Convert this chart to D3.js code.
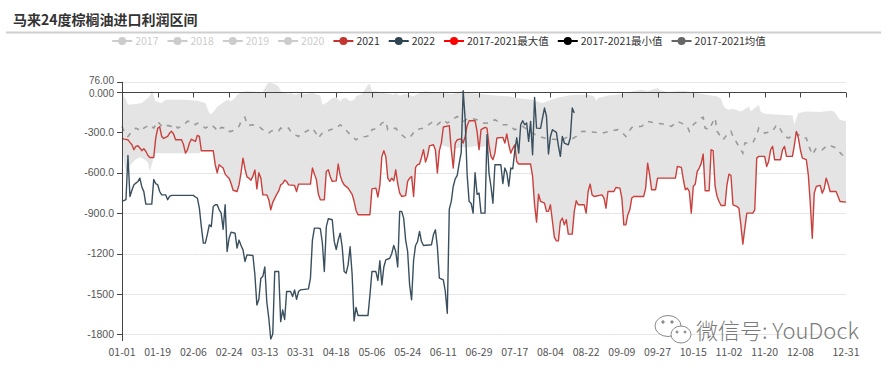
<!DOCTYPE html>
<html>
<head>
<meta charset="utf-8">
<script src="https://cdn.jsdelivr.net/npm/d3@7"></script>
<style>
  body { margin: 0; background: #fff; }
  svg { display: block; font-family: "Noto Sans CJK SC", "Noto Sans", sans-serif; }
</style>
</head>
<body>
<div id="chart"></div>
<script>
// 马来24度棕榈油进口利润区间 — values, [day of year index, value]

const title = "马来24度棕榈油进口利润区间";

// x categories: every day of a (leap) year, shown as MM-DD
const days = d3.timeDay.range(new Date(2020, 0, 1), new Date(2021, 0, 1)).map(d3.timeFormat("%m-%d"));
const xTickLabels = ["01-01","01-19","02-06","02-24","03-13","03-31","04-18","05-06","05-24","06-11",
  "06-29","07-17","08-04","08-22","09-09","09-27","10-15","11-02","11-20","12-08","12-31"];
const yTicks = [76, 0, -300, -600, -900, -1200, -1500, -1800];

const legendNames = ["2017","2018","2019","2020","2021","2022","2017-2021最大值","2017-2021最小值","2017-2021均值"];
const legendColors = ["#cccccc","#cccccc","#cccccc","#cccccc","#c23531","#2f4554","#ff0000","#000000","#666666"];
const legendOn = [false,false,false,false,true,true,true,true,true];

const profit2021 = [[0,-342],[1,-350],[3,-355],[4,-374],[5,-392],[6,-429],[7,-404],[8,-399],[9,-416],[10,-436],
  [11,-421],[12,-440],[13,-470],[14,-486],[16,-486],[17,-342],[18,-270],[19,-258],[20,-330],[21,-345],[23,-330],
  [24,-305],[25,-292],[26,-312],[27,-355],[30,-355],[31,-390],[32,-454],[33,-430],[34,-379],[35,-350],[36,-360],
  [37,-367],[38,-322],[39,-330],[40,-436],[46,-436],[47,-540],[48,-600],[49,-540],[50,-553],[51,-565],[52,-610],
  [53,-627],[54,-640],[55,-680],[56,-730],[58,-739],[59,-690],[60,-600],[61,-491],[62,-570],[63,-630],[64,-640],
  [65,-655],[66,-625],[67,-580],[68,-720],[69,-600],[70,-640],[71,-764],[73,-764],[74,-800],[75,-875],[76,-820],
  [77,-790],[78,-760],[79,-735],[80,-690],[81,-680],[82,-655],[83,-665],[84,-690],[87,-694],[88,-740],[89,-684],
  [95,-684],[96,-565],[97,-610],[98,-650],[99,-760],[100,-801],[102,-801],[103,-590],[104,-578],[105,-630],
  [106,-664],[108,-660],[109,-535],[110,-620],[111,-664],[112,-690],[114,-714],[116,-760],[117,-810],[118,-880],
  [119,-912],[125,-912],[126,-720],[128,-714],[129,-780],[130,-694],[131,-480],[132,-436],[133,-480],[134,-640],
  [135,-664],[136,-640],[137,-660],[138,-578],[139,-680],[140,-751],[141,-776],[143,-770],[144,-664],[145,-640],
  [146,-627],[147,-776],[148,-560],[149,-540],[150,-535],[151,-486],[152,-429],[153,-520],[154,-478],[155,-400],
  [157,-392],[158,-430],[159,-602],[160,-435],[161,-379],[162,-260],[165,-250],[166,-429],[167,-565],[168,-380],
  [169,-355],[171,-348],[172,-379],[173,-330],[174,-250],[175,-213],[178,-213],[179,-292],[180,-429],[181,-280],
  [183,-263],[184,-268],[185,-392],[186,-478],[187,-503],[188,-454],[189,-342],[192,-337],[193,-379],[194,-312],
  [195,-392],[196,-454],[197,-420],[198,-392],[199,-516],[200,-535],[206,-535],[207,-627],[208,-838],[209,-967],
  [210,-760],[211,-813],[213,-826],[214,-887],[215,-887],[216,-838],[217,-960],[218,-1080],[219,-1106],[220,-1106],
  [221,-962],[222,-937],[223,-987],[224,-949],[225,-1056],[227,-1056],[228,-887],[229,-808],[230,-838],[233,-838],
  [234,-900],[235,-739],[236,-684],[237,-764],[238,-776],[242,-764],[243,-788],[244,-863],[245,-739],[248,-739],
  [249,-709],[251,-714],[252,-788],[253,-987],[254,-987],[255,-912],[256,-875],[257,-788],[258,-776],[263,-776],
  [264,-714],[265,-528],[266,-615],[267,-726],[269,-726],[270,-640],[279,-640],[280,-553],[282,-560],[283,-650],
  [284,-726],[285,-714],[286,-739],[287,-900],[288,-702],[289,-684],[290,-590],[291,-565],[292,-530],[293,-461],
  [294,-734],[296,-734],[297,-429],[298,-436],[299,-700],[300,-776],[301,-813],[302,-843],[304,-843],[305,-689],
  [306,-610],[307,-620],[308,-838],[310,-850],[311,-863],[312,-987],[313,-1130],[314,-1011],[315,-900],[318,-900],
  [319,-875],[320,-491],[321,-478],[324,-478],[325,-553],[326,-516],[327,-429],[328,-404],[329,-503],[332,-503],
  [333,-429],[334,-404],[335,-478],[338,-478],[339,-392],[340,-293],[341,-342],[342,-429],[343,-491],[345,-503],
  [346,-615],[347,-830],[348,-1086],[349,-751],[350,-702],[352,-694],[353,-751],[354,-720],[355,-640],[356,-684],
  [357,-739],[360,-739],[361,-776],[362,-813],[365,-818]];

const profit2022 = [[0,-813],[2,-800],[3,-471],[4,-776],[5,-730],[6,-689],[7,-677],[8,-665],[9,-640],[10,-705],
  [11,-740],[12,-833],[15,-833],[16,-650],[17,-680],[18,-689],[19,-739],[20,-764],[22,-764],[23,-800],[24,-776],
  [25,-768],[36,-768],[37,-780],[38,-788],[39,-863],[40,-1000],[41,-1123],[42,-1123],[43,-1060],[44,-987],
  [45,-1000],[46,-850],[47,-838],[48,-838],[49,-875],[50,-900],[51,-1020],[52,-838],[53,-1185],[54,-1086],
  [55,-1041],[57,-1049],[58,-1160],[59,-1100],[60,-1140],[61,-1173],[62,-1259],[63,-1210],[66,-1215],[67,-1358],
  [68,-1582],[69,-1540],[70,-1383],[71,-1370],[72,-1300],[73,-1560],[74,-1681],[75,-1835],[76,-1800],[77,-1334],
  [79,-1334],[80,-1706],[81,-1620],[82,-1690],[83,-1482],[85,-1482],[86,-1520],[87,-1470],[88,-1540],[89,-1482],
  [90,-1470],[94,-1463],[95,-1383],[96,-1100],[97,-1011],[99,-1011],[100,-1016],[101,-1120],[102,-1334],[103,-1000],
  [104,-942],[106,-949],[107,-1110],[108,-1170],[109,-1100],[110,-1049],[111,-1150],[112,-1334],[113,-1346],
  [114,-1284],[115,-1150],[116,-1350],[117,-1701],[118,-1600],[119,-1661],[124,-1661],[125,-1507],[126,-1334],
  [128,-1334],[129,-1400],[130,-1254],[131,-1433],[132,-1300],[133,-1247],[135,-1235],[136,-1200],[137,-1140],
  [138,-1185],[139,-1300],[140,-887],[141,-887],[142,-937],[143,-1100],[144,-1185],[145,-1433],[146,-1544],
  [147,-1250],[148,-1140],[149,-1111],[150,-1036],[151,-1111],[152,-1140],[156,-1135],[157,-1061],[158,-1024],
  [159,-1150],[160,-1383],[162,-1396],[163,-1482],[164,-1644],[165,-870],[166,-813],[167,-700],[168,-645],
  [169,-620],[170,-528],[171,-450],[172,10],[173,-200],[174,-615],[175,-813],[176,-826],[177,-900],[178,-600],
  [179,-760],[180,-751],[181,-900],[183,-900],[184,-317],[185,-600],[186,-700],[187,-826],[188,-540],[191,-540],
  [192,-680],[193,-565],[194,-600],[195,-700],[196,-565],[197,-570],[198,-441],[199,-340],[200,-454],[201,-243],
  [202,-213],[203,-243],[204,-230],[205,-367],[206,-218],[207,-466],[208,-40],[209,-268],[211,-270],[212,-193],
  [213,-119],[214,-180],[215,-460],[216,-330],[217,-280],[219,-300],[220,-400],[221,-478],[222,-330],[223,-379],
  [225,-392],[226,-342],[227,-119],[228,-156]];

const avg1721 = [[0,-255],[1,-292],[3,-330],[5,-292],[7,-268],[10,-292],[11,-268],[14,-243],[16,-268],[18,-218],
  [20,-255],[21,-243],[25,-255],[27,-243],[28,-268],[30,-255],[32,-231],[33,-218],[35,-218],[37,-243],[38,-231],
  [40,-243],[42,-268],[45,-243],[47,-268],[48,-292],[49,-280],[50,-263],[52,-268],[53,-292],[55,-292],[57,-280],
  [59,-255],[60,-218],[62,-188],[63,-243],[64,-248],[66,-243],[69,-255],[70,-268],[72,-292],[74,-305],[75,-292],
  [77,-280],[79,-288],[80,-268],[82,-280],[84,-268],[85,-292],[87,-317],[89,-330],[90,-312],[93,-292],[96,-268],
  [98,-312],[99,-342],[101,-305],[105,-280],[108,-268],[110,-243],[112,-268],[115,-317],[118,-355],[120,-337],
  [123,-330],[125,-322],[126,-280],[129,-268],[131,-231],[133,-218],[134,-280],[138,-268],[140,-305],[143,-342],
  [145,-342],[148,-280],[152,-268],[155,-238],[157,-218],[159,-243],[162,-206],[164,-231],[169,-181],[172,-218],
  [175,-193],[179,-206],[182,-230],[185,-231],[188,-206],[192,-243],[195,-243],[198,-280],[202,-255],[207,-305],
  [210,-330],[213,-342],[217,-350],[222,-355],[225,-330],[227,-347],[229,-330],[232,-292],[237,-297],[242,-305],
  [247,-288],[250,-280],[252,-297],[254,-330],[255,-305],[257,-263],[262,-255],[265,-218],[269,-231],[273,-238],
  [277,-255],[280,-218],[282,-231],[285,-255],[286,-292],[288,-243],[292,-193],[293,-188],[294,-268],[296,-280],
  [298,-218],[299,-193],[300,-292],[303,-355],[305,-317],[307,-292],[308,-330],[311,-404],[313,-454],[314,-379],
  [318,-379],[320,-317],[321,-268],[324,-305],[328,-292],[330,-243],[331,-255],[334,-330],[336,-342],[340,-305],
  [343,-342],[345,-342],[346,-392],[348,-466],[350,-416],[353,-429],[356,-392],[360,-416],[363,-466],[365,-471]];

const max1721 = [[0,-7],[1,-32],[2,-57],[3,-94],[7,-89],[10,-82],[11,-69],[13,-45],[14,-32],[15,17],[16,-32],
  [17,-69],[20,-82],[21,-69],[22,-57],[32,-57],[38,-64],[42,-82],[43,-119],[44,-156],[45,-164],[47,-131],
  [48,-107],[52,-69],[53,-57],[55,-69],[57,-45],[58,-20],[60,0],[63,5],[69,0],[71,0],[72,30],[73,55],[74,76],
  [75,67],[77,59],[79,42],[80,5],[82,-7],[84,-15],[85,-7],[87,-20],[90,-7],[92,-15],[96,-7],[100,-25],[101,-94],
  [103,-82],[106,-45],[108,-40],[110,-69],[111,-50],[113,-45],[115,-69],[117,-57],[118,-32],[121,-15],[123,30],
  [124,55],[125,59],[126,5],[128,5],[132,-7],[137,-20],[138,-7],[140,-25],[143,-15],[147,-32],[150,-7],[153,5],
  [160,-7],[167,-15],[169,0],[172,10],[174,-7],[181,-15],[188,-25],[195,-32],[202,-50],[207,-57],[210,-74],
  [212,-82],[215,-64],[220,-40],[225,-25],[229,-20],[235,-20],[238,-32],[239,-64],[240,-45],[245,-25],[252,-15],
  [259,10],[262,17],[265,5],[270,30],[271,15],[275,0],[280,5],[283,10],[290,-7],[297,-25],[300,-32],[302,-50],
  [303,-94],[304,-119],[306,-131],[308,-124],[312,-144],[315,-119],[316,-107],[317,-144],[319,-119],[321,-94],
  [322,-144],[323,-156],[325,-164],[332,-169],[338,-174],[339,-243],[340,-193],[341,-156],[345,-144],[352,-149],
  [357,-139],[359,-144],[361,-188],[362,-206],[365,-218]];

const min1721 = [[0,-400],[1,-520],[2,-590],[3,-565],[5,-530],[7,-500],[9,-485],[11,-500],[13,-520],[14,-590],
  [15,-540],[16,-490],[17,-454],[39,-454],[40,-436],[46,-436],[47,-540],[48,-600],[49,-540],[50,-553],[51,-565],
  [52,-610],[53,-627],[54,-640],[55,-680],[56,-730],[58,-739],[59,-690],[60,-600],[61,-491],[62,-570],[63,-630],
  [64,-640],[65,-655],[66,-625],[67,-580],[68,-720],[69,-600],[70,-640],[71,-764],[73,-764],[74,-800],[75,-875],
  [76,-820],[77,-790],[78,-760],[79,-735],[80,-690],[81,-680],[82,-655],[83,-665],[84,-690],[87,-694],[88,-740],
  [89,-684],[95,-684],[96,-565],[97,-610],[98,-650],[99,-760],[100,-801],[102,-801],[103,-590],[104,-578],
  [105,-630],[106,-664],[108,-660],[109,-535],[110,-620],[111,-664],[112,-690],[114,-714],[116,-760],[117,-810],
  [118,-880],[119,-912],[125,-912],[126,-720],[128,-714],[129,-780],[130,-694],[131,-480],[132,-436],[133,-480],
  [134,-640],[135,-664],[136,-640],[137,-660],[138,-578],[139,-680],[140,-751],[141,-776],[143,-770],[144,-664],
  [145,-640],[146,-627],[147,-776],[148,-560],[149,-540],[150,-535],[151,-486],[152,-429],[153,-520],[154,-478],
  [155,-400],[157,-392],[158,-430],[159,-602],[160,-435],[161,-379],[162,-400],[165,-410],[166,-429],[167,-565],
  [168,-420],[171,-410],[175,-410],[179,-400],[180,-429],[181,-410],[184,-400],[185,-392],[186,-478],[187,-503],
  [188,-454],[189,-342],[192,-337],[193,-379],[194,-312],[195,-392],[196,-454],[197,-420],[198,-392],[199,-516],
  [200,-535],[206,-535],[207,-627],[208,-838],[209,-967],[210,-760],[211,-813],[213,-826],[214,-887],[215,-887],
  [216,-838],[217,-960],[218,-1080],[219,-1106],[220,-1106],[221,-962],[222,-937],[223,-987],[224,-949],
  [225,-1056],[227,-1056],[228,-887],[229,-808],[230,-838],[233,-838],[234,-900],[235,-739],[236,-684],[237,-764],
  [238,-776],[242,-764],[243,-788],[244,-863],[245,-739],[248,-739],[249,-709],[251,-714],[252,-788],[253,-987],
  [254,-987],[255,-912],[256,-875],[257,-788],[258,-776],[263,-776],[264,-714],[265,-528],[266,-615],[267,-726],
  [269,-726],[270,-640],[279,-640],[280,-553],[282,-560],[283,-650],[284,-726],[285,-714],[286,-739],[287,-900],
  [288,-702],[289,-684],[290,-590],[291,-565],[292,-530],[293,-461],[294,-734],[296,-734],[297,-429],[298,-436],
  [299,-700],[300,-776],[301,-813],[302,-843],[304,-843],[305,-689],[306,-610],[307,-620],[308,-838],[310,-850],
  [311,-863],[312,-987],[313,-1130],[314,-1011],[315,-900],[318,-900],[319,-875],[320,-491],[321,-478],[324,-478],
  [325,-553],[326,-516],[327,-429],[328,-404],[329,-503],[332,-503],[333,-429],[334,-404],[335,-478],[338,-478],
  [339,-392],[340,-293],[341,-342],[342,-429],[343,-491],[345,-503],[346,-615],[347,-830],[348,-1086],[349,-751],
  [350,-702],[352,-694],[353,-751],[354,-720],[355,-640],[356,-684],[357,-739],[360,-739],[361,-776],[362,-813],
  [365,-818]];

const width = 890, height = 376,
    margin = ({top: 82, right: 44, bottom: 35, left: 122});

const svg = d3.select("#chart").append("svg")
    .attr("width", width).attr("height", height)
    .attr("viewBox", [0, 0, width, height]);

// title + rule under it
svg.append("text")
    .attr("x", 13).attr("y", 25)
    .attr("font-size", 14).attr("font-weight", "bold").attr("fill", "#333")
    .text(title);
svg.append("line")
    .attr("x1", 6).attr("x2", 881).attr("y1", 32.5).attr("y2", 32.5)
    .attr("stroke", "#cfcfcf").attr("stroke-width", 2);

// scales
const x = d3.scalePoint()
    .domain(d3.range(days.length))
    .range([margin.left, width - margin.right]);

const y = d3.scaleLinear()
    .domain([-1850, 76])
    .range([height - margin.bottom, margin.top - 0.2]);

// horizontal grid
svg.append("g").selectAll("line")
    .data(yTicks)
    .join("line")
    .attr("x1", margin.left).attr("x2", width - margin.right)
    .attr("y1", d => Math.round(y(d)) + 0.5).attr("y2", d => Math.round(y(d)) + 0.5)
    .attr("stroke", "#e6e6e6");

// max/min band
const line = d3.line().x(d => x(d[0])).y(d => y(d[1]));
svg.append("path")
    .attr("d", line(max1721.concat(min1721.slice().reverse())) + "Z")
    .attr("fill", "#e4e4e4");

// mean, dashed
svg.append("path")
    .attr("d", line(avg1721))
    .attr("fill", "none").attr("stroke", "#9a9a9a")
    .attr("stroke-width", 1.6).attr("stroke-dasharray", "5,6");

svg.append("path")
    .attr("d", line(profit2021))
    .attr("fill", "none").attr("stroke", "#c9403d")
    .attr("stroke-width", 1.4).attr("stroke-linejoin", "round");

svg.append("path")
    .attr("d", line(profit2022))
    .attr("fill", "none").attr("stroke", "#3a4f5e")
    .attr("stroke-width", 1.4).attr("stroke-linejoin", "round");

// x axis sits on zero, labels at the bottom
const tickIdx = xTickLabels.map(l => days.indexOf(l));
const y0 = Math.round(y(0)) + 0.5;
const xg = svg.append("g").attr("stroke", "#444");
xg.append("line")
    .attr("x1", margin.left).attr("x2", width - margin.right)
    .attr("y1", y0).attr("y2", y0);
xg.selectAll(".tk")
    .data(tickIdx)
    .join("line")
    .attr("x1", d => Math.round(x(d)) + 0.5).attr("x2", d => Math.round(x(d)) + 0.5)
    .attr("y1", y0).attr("y2", y0 + 5);

svg.append("g").selectAll("text")
    .data(tickIdx)
    .join("text")
    .attr("x", d => x(d)).attr("y", height - margin.bottom + 15)
    .attr("text-anchor", "middle")
    .attr("font-size", 10.5).attr("fill", "#555")
    .text(d => days[d]);

// y axis
const yg = svg.append("g").attr("stroke", "#444");
yg.append("line")
    .attr("x1", margin.left + 0.5).attr("x2", margin.left + 0.5)
    .attr("y1", y(76)).attr("y2", height - margin.bottom);
yg.selectAll(".tk")
    .data(yTicks)
    .join("line")
    .attr("x1", margin.left - 5).attr("x2", margin.left)
    .attr("y1", d => Math.round(y(d)) + 0.5).attr("y2", d => Math.round(y(d)) + 0.5);

// 76.00 and 0.000 sit very close; a compact font and a small nudge keep them apart
svg.append("g").selectAll("text")
    .data(yTicks)
    .join("text")
    .attr("x", margin.left - 8).attr("y", d => y(d) + (d === 76 ? -1.5 : d === 0 ? 1.2 : 0))
    .attr("dy", "0.35em")
    .attr("text-anchor", "end")
    .attr("font-family", "'Liberation Sans', Arial, sans-serif")
    .attr("font-size", d => d >= 0 ? 10 : 10.5).attr("fill", "#555")
    .text(d => d.toPrecision(4));

// legend, centred
const lg = svg.append("g").attr("font-size", 10.5);
const items = lg.selectAll("g").data(legendNames).join("g");
items.append("text")
    .attr("y", 41).attr("dy", "0.35em")
    .attr("fill", (d, i) => legendOn[i] ? "#333" : "#ccc")
    .text(d => d);
let widths = [];
items.select("text").each(function() { widths.push(this.getComputedTextLength()); });
const total = d3.sum(widths) + widths.length * 23 + (widths.length - 1) * 9;
let cx = width / 2 - 6 - total / 2;
items.each(function(d, i) {
    const g = d3.select(this);
    g.append("line")
        .attr("x1", cx).attr("x2", cx + 20).attr("y1", 41).attr("y2", 41)
        .attr("stroke", legendColors[i]).attr("stroke-width", 2);
    g.append("circle")
        .attr("cx", cx + 10).attr("cy", 41).attr("r", 4)
        .attr("fill", legendColors[i]);
    g.select("text").attr("x", cx + 23);
    cx += 23 + widths[i] + 9;
});

// watermark
const wm = svg.append("g").attr("stroke", "#8a8a8a").attr("fill", "#fff");
wm.append("ellipse").attr("cx", 668).attr("cy", 326).attr("rx", 13).attr("ry", 10.5);
wm.append("ellipse").attr("cx", 681).attr("cy", 334.5).attr("rx", 10).attr("ry", 8.5);
wm.append("circle").attr("cx", 663).attr("cy", 322).attr("r", 1.2).attr("fill", "#8a8a8a");
wm.append("circle").attr("cx", 672).attr("cy", 322).attr("r", 1.2).attr("fill", "#8a8a8a");
wm.append("circle").attr("cx", 677).attr("cy", 332).attr("r", 1).attr("fill", "#8a8a8a");
wm.append("circle").attr("cx", 685).attr("cy", 332).attr("r", 1).attr("fill", "#8a8a8a");
svg.append("text")
    .attr("x", 696).attr("y", 339)
    .attr("font-size", 22).attr("font-weight", 300)
    .attr("fill", "#7a7a7a")
    .text("微信号: YouDock");
</script>
</body>
</html>
